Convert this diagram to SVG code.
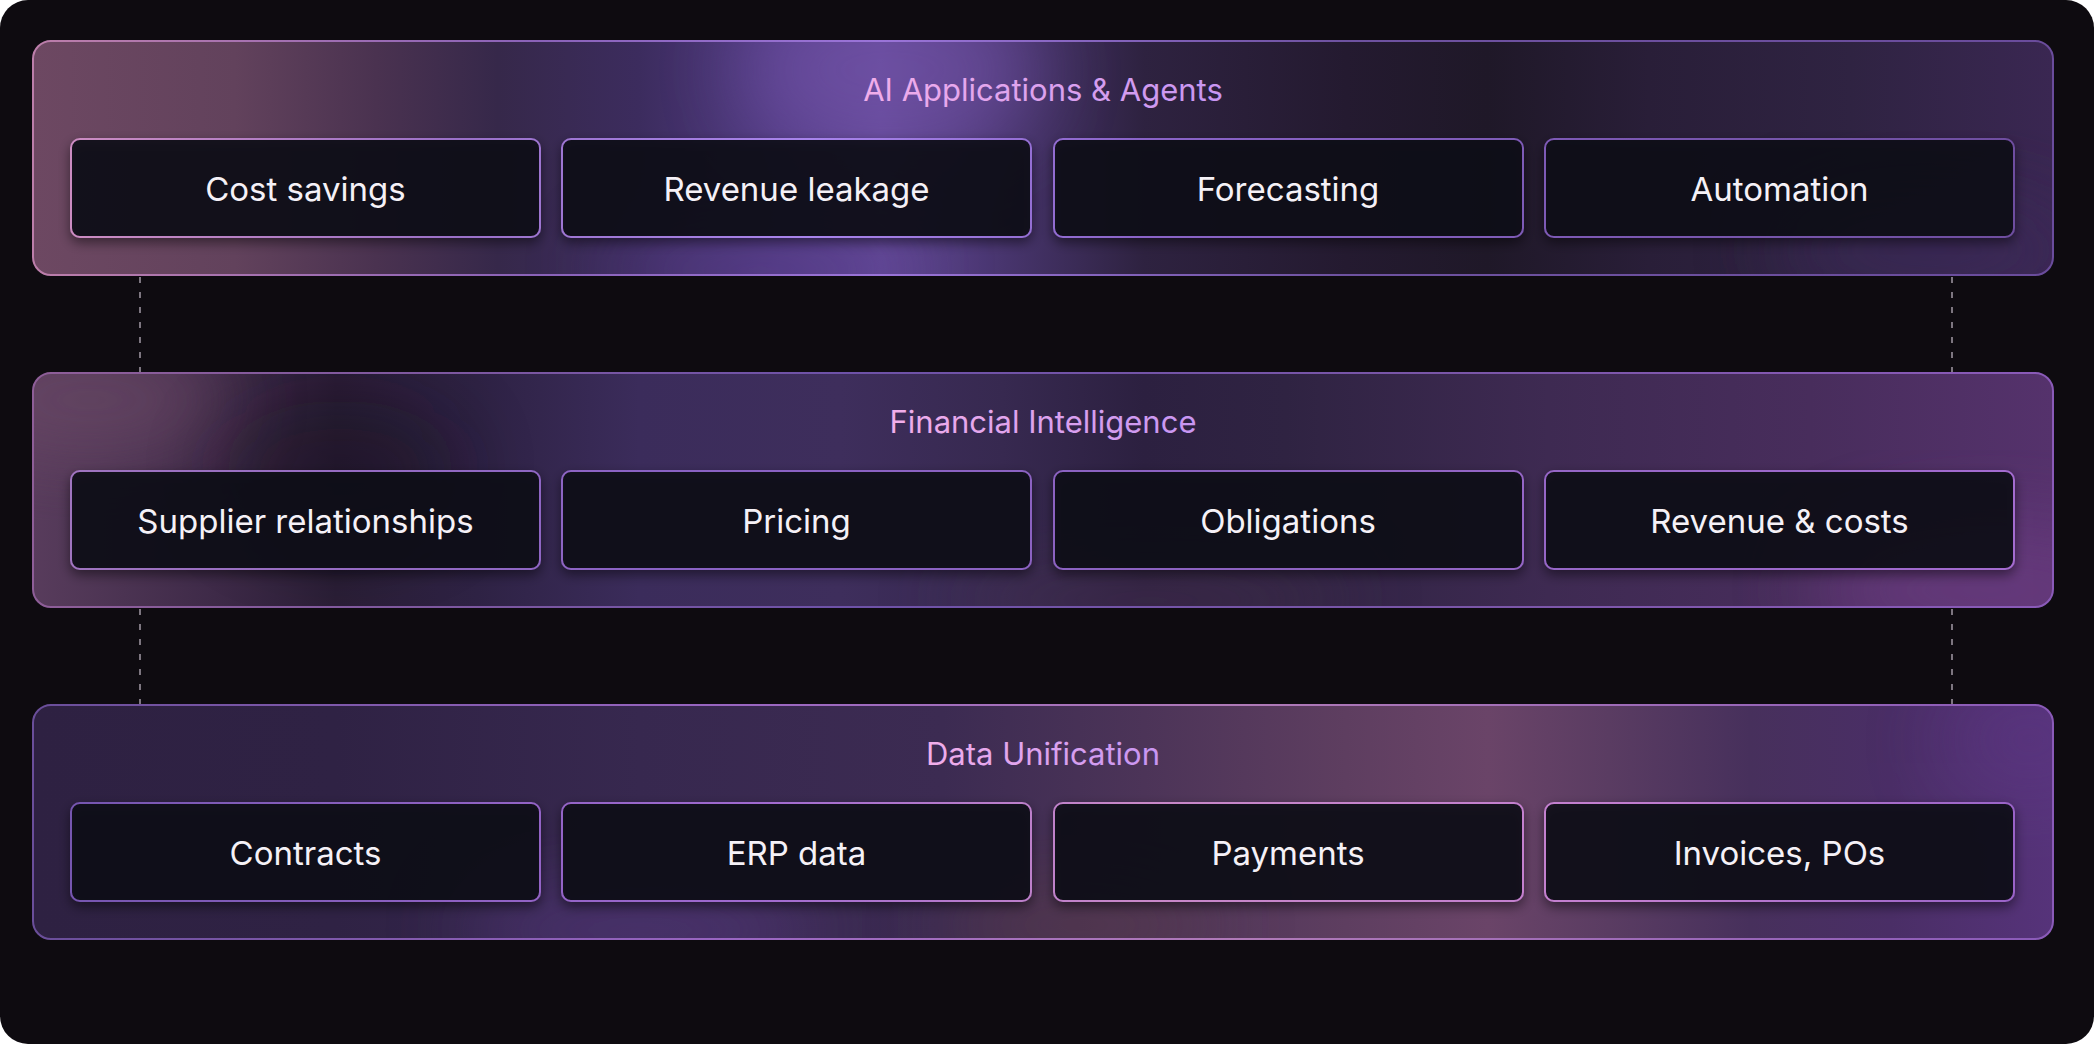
<svg xmlns="http://www.w3.org/2000/svg" width="2094" height="1044" viewBox="0 0 2094 1044">
<defs>
<style>
.box{fill:#0f0a16;fill-opacity:0.9;stroke-width:2}
.panel{stroke-width:2}
.lbl{font-family:Inter,"Noto Sans","Liberation Sans",sans-serif;font-size:33px;fill:#f5f1f7;text-anchor:middle}
.ttl{font-family:Inter,"Noto Sans","Liberation Sans",sans-serif;font-size:31px;text-anchor:middle}
.dash{stroke:#7d7680;stroke-width:2;stroke-dasharray:6 9;fill:none}
</style>
<filter id="sh" x="-10%" y="-20%" width="120%" height="160%">
<feDropShadow dx="0" dy="5" stdDeviation="6" flood-color="#000" flood-opacity="0.5"/>
</filter>
<filter id="blur" x="-50%" y="-50%" width="200%" height="200%">
<feGaussianBlur stdDeviation="40"/>
</filter>
<linearGradient id="ttlg" x1="0" y1="0" x2="1" y2="0">
<stop offset="0" stop-color="#f2aeea"/>
<stop offset="1" stop-color="#c795f2"/>
</linearGradient>
<linearGradient id="p1f" gradientUnits="userSpaceOnUse" x1="33" y1="0" x2="2053" y2="0">
<stop offset="0" stop-color="#6d4862"/>
<stop offset="0.10" stop-color="#62425c"/>
<stop offset="0.17" stop-color="#4a3250"/>
<stop offset="0.23" stop-color="#36284a"/>
<stop offset="0.30" stop-color="#3c2c5e"/>
<stop offset="0.37" stop-color="#523c84"/>
<stop offset="0.42" stop-color="#614896"/>
<stop offset="0.48" stop-color="#48356e"/>
<stop offset="0.55" stop-color="#2e2240"/>
<stop offset="0.65" stop-color="#241a30"/>
<stop offset="0.72" stop-color="#1f1828"/>
<stop offset="0.80" stop-color="#291e38"/>
<stop offset="0.90" stop-color="#2f2342"/>
<stop offset="1" stop-color="#3a2752"/>
</linearGradient>
<linearGradient id="p2f" gradientUnits="userSpaceOnUse" x1="33" y1="0" x2="2053" y2="0">
<stop offset="0" stop-color="#583c5c"/>
<stop offset="0.09" stop-color="#3e2a48"/>
<stop offset="0.15" stop-color="#2a1e36"/>
<stop offset="0.22" stop-color="#2e2244"/>
<stop offset="0.30" stop-color="#3b2c5b"/>
<stop offset="0.40" stop-color="#3e2e5c"/>
<stop offset="0.48" stop-color="#372950"/>
<stop offset="0.55" stop-color="#2c2040"/>
<stop offset="0.62" stop-color="#2f2342"/>
<stop offset="0.75" stop-color="#3e2a52"/>
<stop offset="0.88" stop-color="#482d5c"/>
<stop offset="1" stop-color="#55326c"/>
</linearGradient>
<linearGradient id="p3f" gradientUnits="userSpaceOnUse" x1="33" y1="0" x2="2053" y2="0">
<stop offset="0" stop-color="#2e2142"/>
<stop offset="0.15" stop-color="#2f2244"/>
<stop offset="0.30" stop-color="#37284f"/>
<stop offset="0.45" stop-color="#3c2b52"/>
<stop offset="0.55" stop-color="#4c3458"/>
<stop offset="0.65" stop-color="#5e3e60"/>
<stop offset="0.72" stop-color="#6a4468"/>
<stop offset="0.78" stop-color="#5a3c62"/>
<stop offset="0.85" stop-color="#47305c"/>
<stop offset="0.92" stop-color="#4a2e66"/>
<stop offset="1" stop-color="#56337a"/>
</linearGradient>
<linearGradient id="p1s" gradientUnits="userSpaceOnUse" x1="33" y1="0" x2="2053" y2="0">
<stop offset="0" stop-color="#bc7eaa"/>
<stop offset="0.25" stop-color="#8a62b8"/>
<stop offset="0.42" stop-color="#9a74d8"/>
<stop offset="0.65" stop-color="#6e52a0"/>
<stop offset="1" stop-color="#6a4c9c"/>
</linearGradient>
<linearGradient id="p2s" gradientUnits="userSpaceOnUse" x1="33" y1="0" x2="2053" y2="0">
<stop offset="0" stop-color="#8e5e98"/>
<stop offset="0.4" stop-color="#6e52a8"/>
<stop offset="0.7" stop-color="#7a56a8"/>
<stop offset="1" stop-color="#8a5ab8"/>
</linearGradient>
<linearGradient id="p3s" gradientUnits="userSpaceOnUse" x1="33" y1="0" x2="2053" y2="0">
<stop offset="0" stop-color="#6a4e9a"/>
<stop offset="0.35" stop-color="#9a66c2"/>
<stop offset="0.6" stop-color="#b07ab8"/>
<stop offset="1" stop-color="#8a5ab8"/>
</linearGradient>
<linearGradient id="b1s" gradientUnits="userSpaceOnUse" x1="71" y1="0" x2="2014" y2="0">
<stop offset="0" stop-color="#cc8cc2"/>
<stop offset="0.2" stop-color="#9a70c8"/>
<stop offset="0.38" stop-color="#a884ec"/>
<stop offset="0.55" stop-color="#8a64c8"/>
<stop offset="1" stop-color="#6e4ea0"/>
</linearGradient>
<linearGradient id="b2s" gradientUnits="userSpaceOnUse" x1="71" y1="0" x2="2014" y2="0">
<stop offset="0" stop-color="#a074c0"/>
<stop offset="0.3" stop-color="#8a62c4"/>
<stop offset="0.6" stop-color="#8c62c0"/>
<stop offset="1" stop-color="#a46cd0"/>
</linearGradient>
<linearGradient id="b3s" gradientUnits="userSpaceOnUse" x1="71" y1="0" x2="2014" y2="0">
<stop offset="0" stop-color="#7656b0"/>
<stop offset="0.35" stop-color="#a06ad0"/>
<stop offset="0.55" stop-color="#c888c8"/>
<stop offset="0.8" stop-color="#c27ed0"/>
<stop offset="1" stop-color="#9a64c8"/>
</linearGradient>
<clipPath id="c1"><rect x="33" y="41" width="2020" height="234" rx="18"/></clipPath>
<clipPath id="c2"><rect x="33" y="373" width="2020" height="234" rx="18"/></clipPath>
<clipPath id="c3"><rect x="33" y="705" width="2020" height="234" rx="18"/></clipPath>
</defs>

<rect x="0" y="0" width="2094" height="1044" rx="28" fill="#0e0b10"/>

<g id="connectors">
<line class="dash" x1="140" y1="277" x2="140" y2="372"/>
<line class="dash" x1="1952" y1="277" x2="1952" y2="372"/>
<line class="dash" x1="140" y1="609" x2="140" y2="704"/>
<line class="dash" x1="1952" y1="609" x2="1952" y2="704"/>
</g>

<g id="layer-ai">
<rect x="33" y="41" width="2020" height="234" rx="18" fill="url(#p1f)"/>
<g clip-path="url(#c1)">
<ellipse cx="890" cy="70" rx="150" ry="90" fill="#7654ac" opacity="0.55" filter="url(#blur)"/>
<ellipse cx="760" cy="270" rx="160" ry="50" fill="#5a3e8c" opacity="0.5" filter="url(#blur)"/>
<ellipse cx="1930" cy="250" rx="160" ry="60" fill="#3e2a5c" opacity="0.6" filter="url(#blur)"/>
</g>
<rect class="panel" x="33" y="41" width="2020" height="234" rx="18" fill="none" stroke="url(#p1s)"/>
<text class="ttl" x="1043" y="101" fill="url(#ttlg)">AI Applications &amp; Agents</text>
<g id="n-cost"><rect class="box" x="71" y="139" width="469" height="98" rx="9" stroke="url(#b1s)" filter="url(#sh)"/><text class="lbl" x="305.5" y="201">Cost savings</text></g>
<g id="n-leak"><rect class="box" x="562" y="139" width="469" height="98" rx="9" stroke="url(#b1s)" filter="url(#sh)"/><text class="lbl" x="796.5" y="201">Revenue leakage</text></g>
<g id="n-fore"><rect class="box" x="1054" y="139" width="469" height="98" rx="9" stroke="url(#b1s)" filter="url(#sh)"/><text class="lbl" x="1288" y="201">Forecasting</text></g>
<g id="n-auto"><rect class="box" x="1545" y="139" width="469" height="98" rx="9" stroke="url(#b1s)" filter="url(#sh)"/><text class="lbl" x="1779.5" y="201">Automation</text></g>
</g>

<g id="layer-fin">
<rect x="33" y="373" width="2020" height="234" rx="18" fill="url(#p2f)"/>
<g clip-path="url(#c2)">
<ellipse cx="90" cy="400" rx="140" ry="60" fill="#6a4866" opacity="0.7" filter="url(#blur)"/>
<ellipse cx="340" cy="470" rx="120" ry="70" fill="#17111f" opacity="0.45" filter="url(#blur)"/>
<ellipse cx="1990" cy="590" rx="180" ry="70" fill="#6e3c84" opacity="0.65" filter="url(#blur)"/>
<ellipse cx="1150" cy="600" rx="200" ry="40" fill="#4a3050" opacity="0.5" filter="url(#blur)"/>
</g>
<rect class="panel" x="33" y="373" width="2020" height="234" rx="18" fill="none" stroke="url(#p2s)"/>
<text class="ttl" x="1043" y="433" fill="url(#ttlg)">Financial Intelligence</text>
<g id="n-supp"><rect class="box" x="71" y="471" width="469" height="98" rx="9" stroke="url(#b2s)" filter="url(#sh)"/><text class="lbl" x="305.5" y="533">Supplier relationships</text></g>
<g id="n-price"><rect class="box" x="562" y="471" width="469" height="98" rx="9" stroke="url(#b2s)" filter="url(#sh)"/><text class="lbl" x="796.5" y="533">Pricing</text></g>
<g id="n-obl"><rect class="box" x="1054" y="471" width="469" height="98" rx="9" stroke="url(#b2s)" filter="url(#sh)"/><text class="lbl" x="1288" y="533">Obligations</text></g>
<g id="n-rev"><rect class="box" x="1545" y="471" width="469" height="98" rx="9" stroke="url(#b2s)" filter="url(#sh)"/><text class="lbl" x="1779.5" y="533">Revenue &amp; costs</text></g>
</g>

<g id="layer-data">
<rect x="33" y="705" width="2020" height="234" rx="18" fill="url(#p3f)"/>
<g clip-path="url(#c3)">
<ellipse cx="640" cy="930" rx="180" ry="50" fill="#5a3a86" opacity="0.55" filter="url(#blur)"/>
<ellipse cx="1080" cy="925" rx="140" ry="45" fill="#5a3a44" opacity="0.55" filter="url(#blur)"/>
<ellipse cx="2030" cy="740" rx="90" ry="60" fill="#5e3886" opacity="0.45" filter="url(#blur)"/>
</g>
<rect class="panel" x="33" y="705" width="2020" height="234" rx="18" fill="none" stroke="url(#p3s)"/>
<text class="ttl" x="1043" y="765" fill="url(#ttlg)">Data Unification</text>
<g id="n-contr"><rect class="box" x="71" y="803" width="469" height="98" rx="9" stroke="url(#b3s)" filter="url(#sh)"/><text class="lbl" x="305.5" y="865">Contracts</text></g>
<g id="n-erp"><rect class="box" x="562" y="803" width="469" height="98" rx="9" stroke="url(#b3s)" filter="url(#sh)"/><text class="lbl" x="796.5" y="865">ERP data</text></g>
<g id="n-pay"><rect class="box" x="1054" y="803" width="469" height="98" rx="9" stroke="url(#b3s)" filter="url(#sh)"/><text class="lbl" x="1288" y="865">Payments</text></g>
<g id="n-inv"><rect class="box" x="1545" y="803" width="469" height="98" rx="9" stroke="url(#b3s)" filter="url(#sh)"/><text class="lbl" x="1779.5" y="865">Invoices, POs</text></g>
</g>
</svg>
